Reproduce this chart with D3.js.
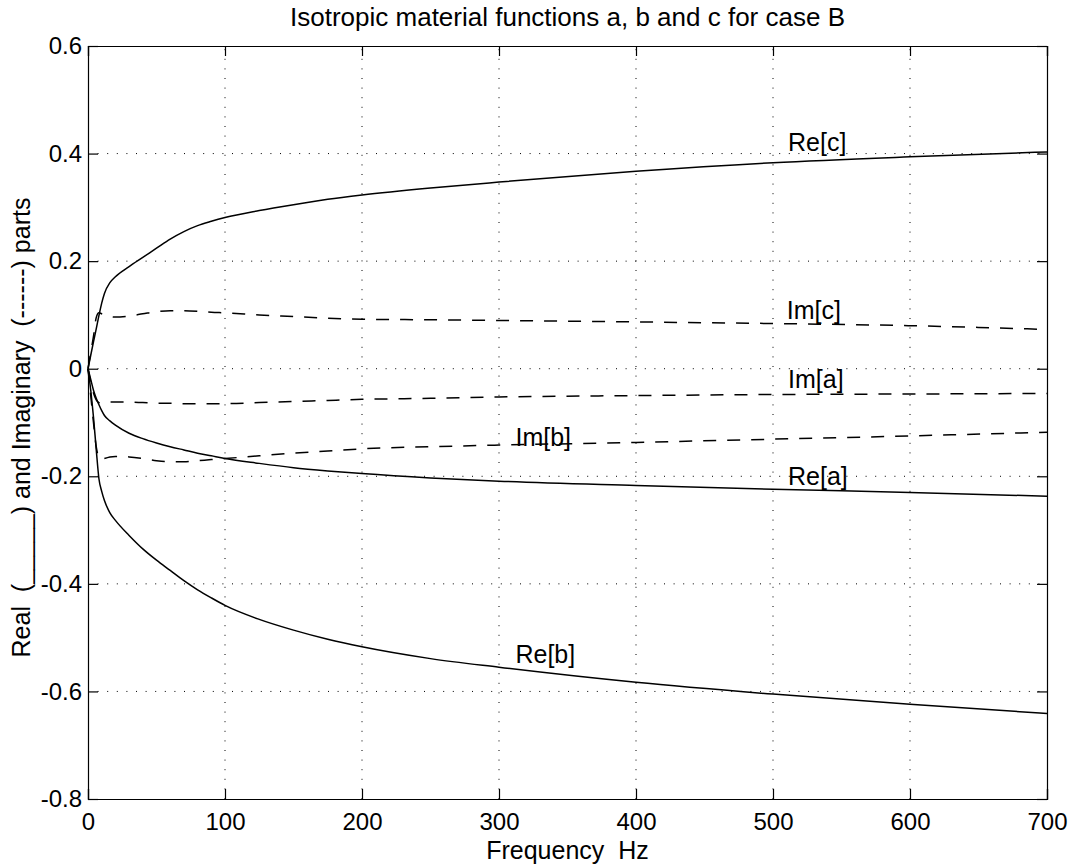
<!DOCTYPE html>
<html>
<head>
<meta charset="utf-8">
<script src="https://cdn.jsdelivr.net/npm/d3@7"></script>
<style>
  body { margin: 0; background: #fff; }
  svg text { font-family: "Liberation Sans", Arial, Helvetica, sans-serif; fill: #000; }
</style>
</head>
<body>
<div id="chart"></div>
<script>
// Figure size
const width = 1072;
const height = 864;
const margin = { top: 46, right: 25, bottom: 65, left: 88 };

// Frequency samples (Hz)
const freq = [0, 2, 4, 6, 8, 10, 12, 16, 20, 30, 40, 50, 60, 70, 80, 90, 100, 125, 150, 175, 200, 250, 300, 400, 500, 600, 700];

// Real parts (solid lines)
const reA = [0, -0.02, -0.04, -0.055, -0.067, -0.078, -0.087, -0.097, -0.105, -0.12, -0.13, -0.138, -0.145, -0.151, -0.157, -0.162, -0.167, -0.176, -0.184, -0.190, -0.195, -0.203, -0.209, -0.217, -0.224, -0.230, -0.237];
const reB = [0, -0.04, -0.09, -0.15, -0.205, -0.228, -0.245, -0.268, -0.282, -0.31, -0.335, -0.356, -0.375, -0.394, -0.411, -0.426, -0.440, -0.466, -0.486, -0.503, -0.517, -0.539, -0.555, -0.583, -0.605, -0.624, -0.641];
const reC = [0, 0.025, 0.05, 0.074, 0.099, 0.122, 0.14, 0.16, 0.171, 0.19, 0.207, 0.224, 0.241, 0.255, 0.266, 0.274, 0.281, 0.294, 0.305, 0.315, 0.323, 0.336, 0.347, 0.367, 0.383, 0.394, 0.403];

// Imaginary parts (dashed lines)
const imA = [0, -0.025, -0.045, -0.058, -0.063, -0.064, -0.063, -0.062, -0.062, -0.062, -0.063, -0.064, -0.064, -0.065, -0.065, -0.065, -0.065, -0.063, -0.061, -0.059, -0.057, -0.055, -0.0525, -0.050, -0.048, -0.047, -0.046];
const imB = [0, -0.05, -0.10, -0.145, -0.165, -0.169, -0.167, -0.164, -0.163, -0.164, -0.167, -0.171, -0.173, -0.173, -0.171, -0.169, -0.167, -0.162, -0.157, -0.153, -0.149, -0.145, -0.142, -0.137, -0.131, -0.125, -0.118];
const imC = [0, 0.03, 0.06, 0.095, 0.104, 0.102, 0.099, 0.097, 0.096, 0.098, 0.102, 0.106, 0.108, 0.108, 0.107, 0.105, 0.104, 0.100, 0.097, 0.094, 0.092, 0.091, 0.0897, 0.087, 0.084, 0.080, 0.073];

// Tick values
const xTicks = [0, 100, 200, 300, 400, 500, 600, 700];
const yTicks = [-0.8, -0.6, -0.4, -0.2, 0, 0.2, 0.4, 0.6];

// Curve labels: name, frequency and value of the label's left/baseline point
const labelNames = ["Re[c]", "Im[c]", "Im[a]", "Im[b]", "Re[a]", "Re[b]"];
const labelFreq = [511, 510, 511, 312, 511, 312];
const labelVal = [0.404, 0.092, -0.036, -0.144, -0.217, -0.548];

const series = [
    { values: reA, dashed: false },
    { values: reB, dashed: false },
    { values: reC, dashed: false },
    { values: imA, dashed: true },
    { values: imB, dashed: true },
    { values: imC, dashed: true }
];

const x = d3.scaleLinear().domain([0, 700]).range([margin.left, width - margin.right]);
const y = d3.scaleLinear().domain([-0.8, 0.6]).range([height - margin.bottom, margin.top]);

const svg = d3.select("#chart")
    .append("svg")
    .attr("width", width)
    .attr("height", height);

// Dotted grid
svg.append("g")
    .selectAll("line")
    .data(xTicks.slice(1, -1))
    .join("line")
    .attr("x1", d => x(d)).attr("x2", d => x(d))
    .attr("y1", y(-0.8)).attr("y2", y(0.6))
    .attr("stroke", "#000")
    .attr("stroke-width", 1)
    .attr("stroke-dasharray", "1,8.6");

svg.append("g")
    .selectAll("line")
    .data(yTicks.slice(1, -1))
    .join("line")
    .attr("x1", x(0)).attr("x2", x(700))
    .attr("y1", d => y(d)).attr("y2", d => y(d))
    .attr("stroke", "#000")
    .attr("stroke-width", 1)
    .attr("stroke-dasharray", "1,8.6");

// Axes with inward ticks on all four sides
const tickLen = 10;
const fmtY = d => d === 0 ? "0" : d3.format(".1f")(d).replace("−", "-");

const gx = svg.append("g")
    .attr("transform", `translate(0,${y(-0.8)})`)
    .call(d3.axisBottom(x).tickValues(xTicks).tickSize(-tickLen).tickPadding(14).tickFormat(d3.format("d")));
const gy = svg.append("g")
    .attr("transform", `translate(${x(0)},0)`)
    .call(d3.axisLeft(y).tickValues(yTicks).tickSize(-tickLen).tickPadding(6).tickFormat(fmtY));
const gt = svg.append("g")
    .attr("transform", `translate(0,${y(0.6)})`)
    .call(d3.axisTop(x).tickValues(xTicks).tickSize(-tickLen).tickFormat(""));
const gr = svg.append("g")
    .attr("transform", `translate(${x(700)},0)`)
    .call(d3.axisRight(y).tickValues(yTicks).tickSize(-tickLen).tickFormat(""));

[gx, gy, gt, gr].forEach(g => {
    g.select(".domain").attr("stroke", "#000").attr("stroke-width", 1.2);
    g.selectAll(".tick line").attr("stroke", "#000").attr("stroke-width", 1.2);
    g.selectAll(".tick text").attr("font-size", 24).attr("font-family", null).attr("fill", "#000");
});
gx.selectAll(".tick text").attr("dy", "0.71em");

// Curves
const line = d3.line()
    .x((d, i) => x(freq[i]))
    .y(d => y(d))
    .curve(d3.curveMonotoneX);

svg.append("g")
    .selectAll("path")
    .data(series)
    .join("path")
    .attr("d", d => line(d.values))
    .attr("fill", "none")
    .attr("stroke", "#000")
    .attr("stroke-width", 1.5)
    .attr("stroke-dasharray", d => d.dashed ? "13,11" : null);

// Curve labels
svg.append("g")
    .selectAll("text")
    .data(labelNames)
    .join("text")
    .attr("x", (d, i) => x(labelFreq[i]))
    .attr("y", (d, i) => y(labelVal[i]))
    .attr("font-size", 25)
    .text(d => d);

// Title and axis labels
svg.append("text")
    .attr("x", (x(0) + x(700)) / 2)
    .attr("y", 26)
    .attr("text-anchor", "middle")
    .attr("font-size", 26)
    .text("Isotropic material functions a, b and c for case B");

svg.append("text")
    .attr("x", (x(0) + x(700)) / 2)
    .attr("y", 859)
    .attr("text-anchor", "middle")
    .attr("font-size", 25)
    .style("white-space", "pre")
    .text("Frequency  Hz");

svg.append("text")
    .attr("transform", `translate(30,${(y(-0.8) + y(0.6)) / 2 + 5}) rotate(-90)`)
    .attr("text-anchor", "middle")
    .attr("font-size", 25)
    .style("white-space", "pre")
    .text("Real  (_____) and Imaginary  (------) parts");
</script>
</body>
</html>
